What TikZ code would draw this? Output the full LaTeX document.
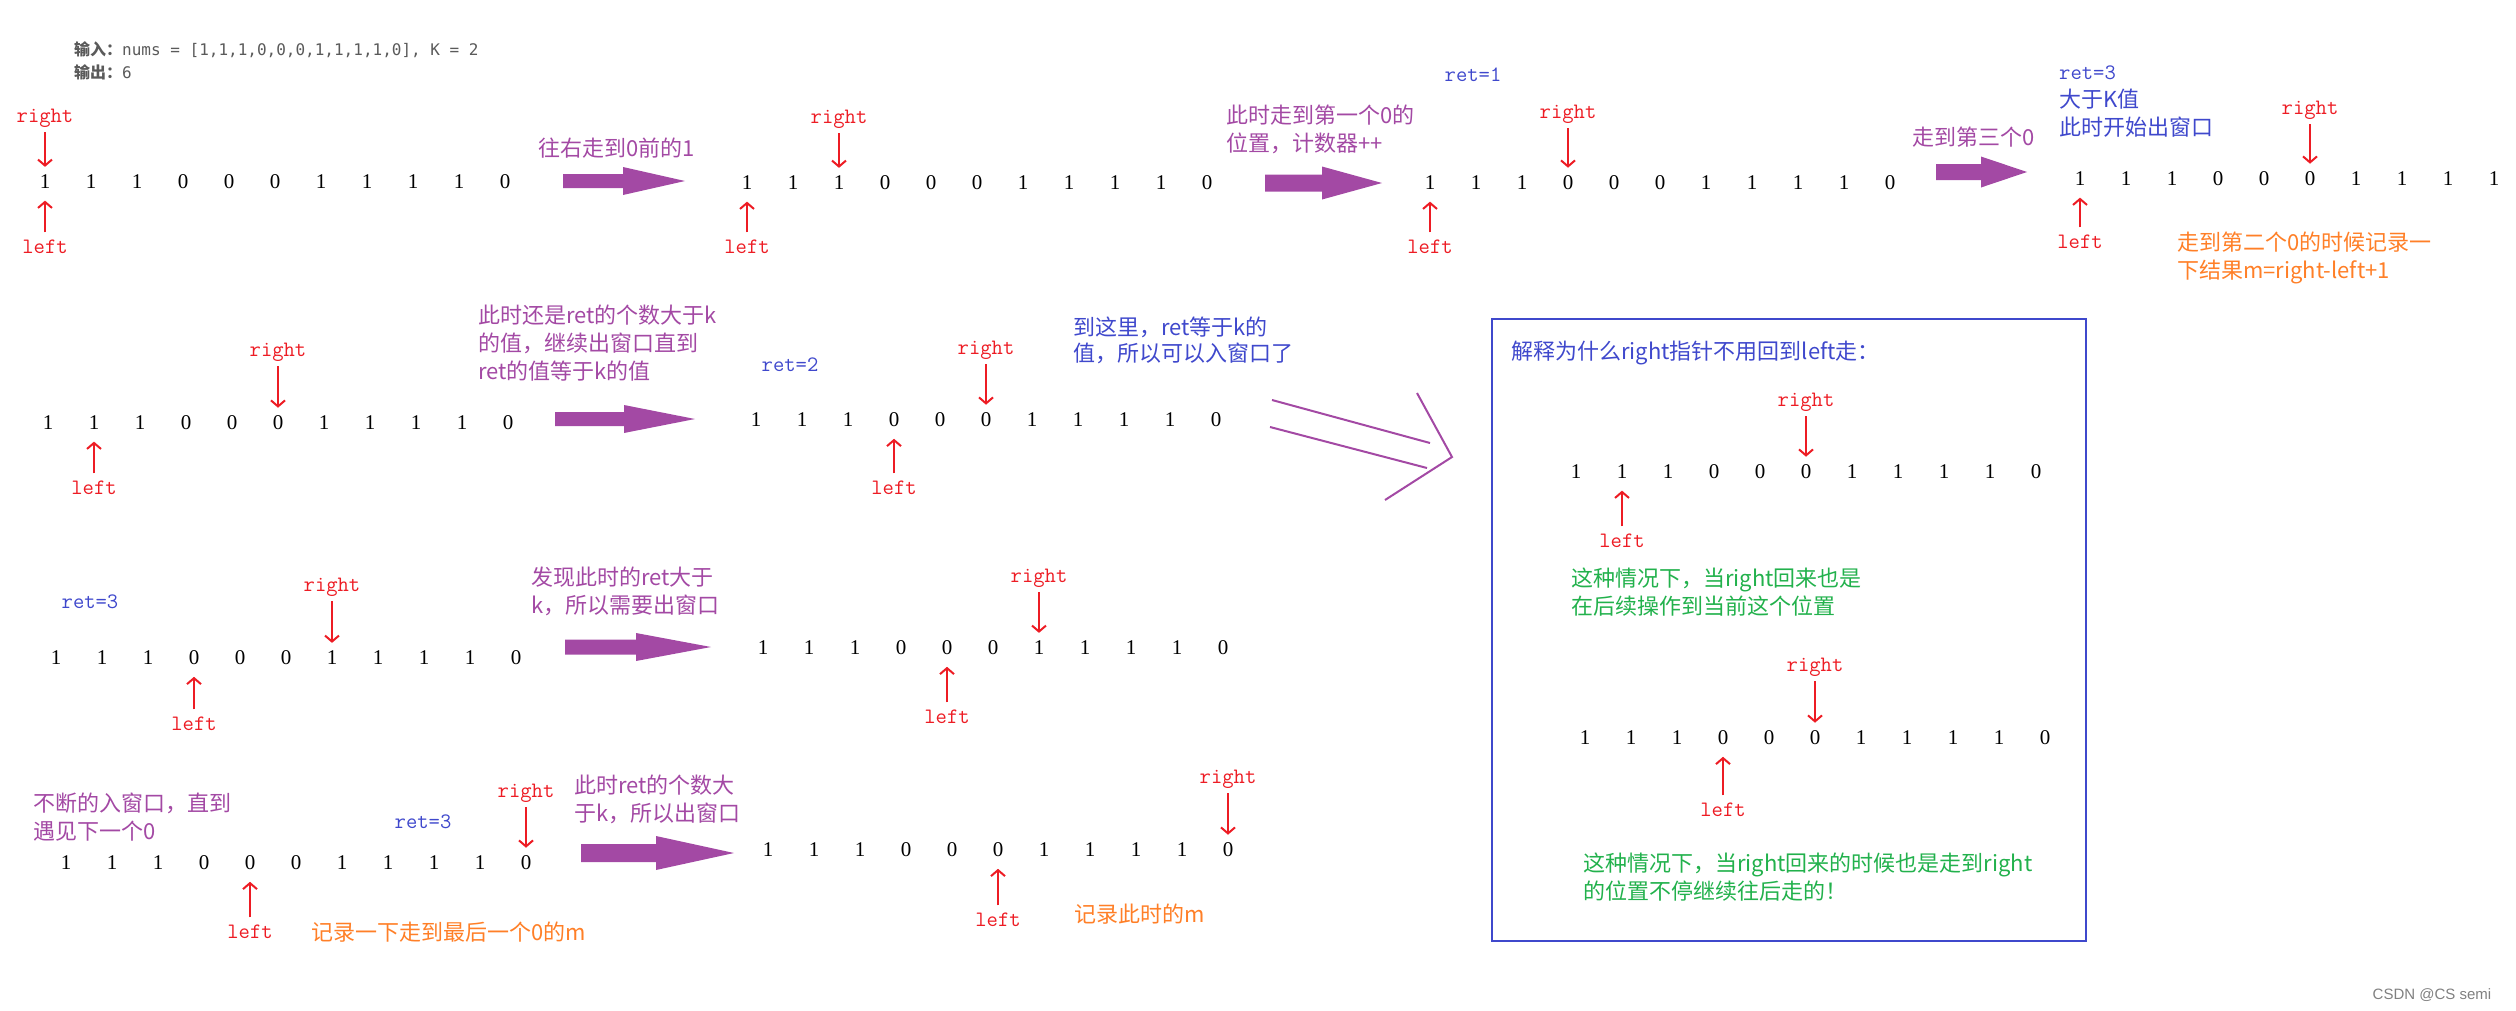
\documentclass[tikz,border=0pt]{standalone}
\usepackage{fontspec}
\setmainfont{Liberation Serif}
\newfontfamily\cjk{Noto Sans CJK SC}
\newfontfamily\codefont{DejaVu Sans Mono}
\newfontfamily\markfont{Liberation Sans}
\usepackage{xcolor}
\usetikzlibrary{arrows.meta, positioning}

\definecolor{ptrred}{RGB}{237,28,36}
\definecolor{notepurple}{RGB}{163,73,164}
\definecolor{noteblue}{RGB}{63,72,204}
\definecolor{noteorange}{RGB}{255,127,39}
\definecolor{notegreen}{RGB}{34,177,76}
\definecolor{codegray}{RGB}{90,90,90}

\begin{document}
\begin{tikzpicture}[
    x=1pt, y=-1pt,
    digit/.style={font=\fontsize{21}{21}\selectfont, inner sep=0pt},
    rlab/.style={font=\ttfamily\fontsize{22}{22}\selectfont, text=ptrred, inner sep=0pt},
    retlab/.style={font=\ttfamily\fontsize{22}{22}\selectfont, text=noteblue, inner sep=0pt},
    downptr/.style={-{Straight Barb[length=6pt,width=14pt]}, ptrred, line width=2pt, shorten <=5pt, shorten >=8pt},
    upptr/.style={-{Straight Barb[length=6pt,width=14pt]}, ptrred, line width=2pt, shorten <=7.5pt, shorten >=11.5pt},
    note/.style={font=\cjk\fontsize{22}{28}\selectfont, inner sep=0pt, align=left},
    pics/fatarrow/.style n args={4}{code={
      \fill[notepurple] (0,-#3) -- (#2,-#3) -- (#2,-#4) -- (#1,0) -- (#2,#4) -- (#2,#3) -- (0,#3) -- cycle;}}
  ]
  \useasboundingbox (0,0) rectangle (2516,1010);

  % Input
  \node[anchor=west, inner sep=0pt, font=\codefont\fontsize{16}{22}\selectfont, text=codegray] (inp) at (74,50)
    {{\cjk\bfseries 输入：}nums = [1,1,1,0,0,0,1,1,1,1,0], K = 2};
  \node[anchor=west, inner sep=0pt, font=\codefont\fontsize{16}{22}\selectfont, text=codegray] (outp) at (74,72)
    {{\cjk\bfseries 输出：}6};

  % Arrays
  \foreach \n/\x/\y in {s1/45/182, s2/747/183, s3/1430/183, s5/48/423, s6/756/420, s7/56/658,
                        s8/763/648, s9/66/863, s10/768/850, s11/1576/472, s12/1585/738}
    \foreach \v [count=\i from 0] in {1,1,1,0,0,0,1,1,1,1,0}
      \node[digit] (\n-\i) at (\x+46*\i,\y) {\v};
  \foreach \v [count=\i from 0] in {1,1,1,0,0,0,1,1,1,1}
    \node[digit] (s4-\i) at (2080+46*\i,179) {\v};

  % Pointers
  \foreach \n/\r/\l/\dr/\dl in {s1/0/0/64/65, s2/2/0/64/64, s3/3/0/69/64, s4/5/0/69/63,
                                s5/5/1/71/65, s6/5/3/70/68, s7/6/3/71/66, s8/6/4/70/69,
                                s9/10/4/70/69, s10/10/5/71/70, s11/5/1/70/69, s12/5/3/71/72} {
    \node[rlab, above=\dr pt of \n-\r.center, anchor=center] (\n-right) {right};
    \node[rlab, below=\dl pt of \n-\l.center, anchor=center] (\n-left) {left};
    \draw[downptr] (\n-right) -- (\n-\r);
    \draw[upptr] (\n-left) -- (\n-\l);
  }

  % Step arrows
  \pic at (563,181) {fatarrow={122}{60}{7}{14}};
  \pic at (1265,183) {fatarrow={117}{57}{8.5}{16.5}};
  \pic at (1936,172) {fatarrow={91}{45}{8}{15.5}};
  \pic at (555,419) {fatarrow={140}{69}{7}{14}};
  \pic at (565,647) {fatarrow={146}{71}{7.5}{14}};
  \pic at (581,853) {fatarrow={153}{75}{9}{17}};
  \draw[notepurple, line width=2pt] (1272,400) -- (1430,443) (1270,427) -- (1427,468)
    (1417,393) -- (1452,457) -- (1385,500);

  % Notes
  \node[note, text=notepurple, anchor=west] (n1) at (538,148) {往右走到0前的1};
  \node[note, text=notepurple, anchor=north west] (n2) at (1226,105) {此时走到第一个0的\\位置，计数器++};
  \node[note, text=notepurple, anchor=west] (n3) at (1912,137) {走到第三个0};
  \node[note, text=notepurple, anchor=north west] (n4) at (478,305) {此时还是ret的个数大于k\\的值，继续出窗口直到\\ret的值等于k的值};
  \node[note, text=notepurple, anchor=north west] (n5) at (531,567) {发现此时的ret大于\\k，所以需要出窗口};
  \node[note, text=notepurple, anchor=north west] (n6) at (33,793) {不断的入窗口，直到\\遇见下一个0};
  \node[note, text=notepurple, anchor=north west] (n7) at (574,775) {此时ret的个数大\\于k，所以出窗口};

  \node[retlab] (ret1) at (1473,75) {ret=1};
  \node[note, text=noteblue, anchor=north west] (ret3a) at (2059,66) {{\ttfamily\fontsize{22}{28}\selectfont ret=3}\\大于K值\\此时开始出窗口};
  \node[retlab] (ret2) at (790,365) {ret=2};
  \node[note, text=noteblue, anchor=north west, font=\cjk\fontsize{22}{26}\selectfont] (n8) at (1073,317) {到这里，ret等于k的\\值，所以可以入窗口了};
  \node[retlab] (ret3b) at (90,602) {ret=3};
  \node[retlab] (ret3c) at (423,822) {ret=3};

  \node[note, text=noteorange, anchor=north west] (m1) at (2177,232) {走到第二个0的时候记录一\\下结果m=right-left+1};
  \node[note, text=noteorange, anchor=west] (m2) at (311,932) {记录一下走到最后一个0的m};
  \node[note, text=noteorange, anchor=west] (m3) at (1074,914) {记录此时的m};

  % Explanation box
  \draw[noteblue, line width=2.5pt] (1492,319) rectangle (2086,941);
  \node[note, text=noteblue, anchor=west] (why) at (1511,353) {解释为什么right指针不用回到left走：};
  \node[note, text=notegreen, anchor=north west] (g1) at (1571,568) {这种情况下，当right回来也是\\在后续操作到当前这个位置};
  \node[note, text=notegreen, anchor=north west] (g2) at (1583,853) {这种情况下，当right回来的时候也是走到right\\的位置不停继续往后走的！};

  \node[font=\markfont\fontsize{15}{15}\selectfont, text=gray, inner sep=0pt] (mark) at (2432,995) {CSDN @CS semi};
\end{tikzpicture}
\end{document}
